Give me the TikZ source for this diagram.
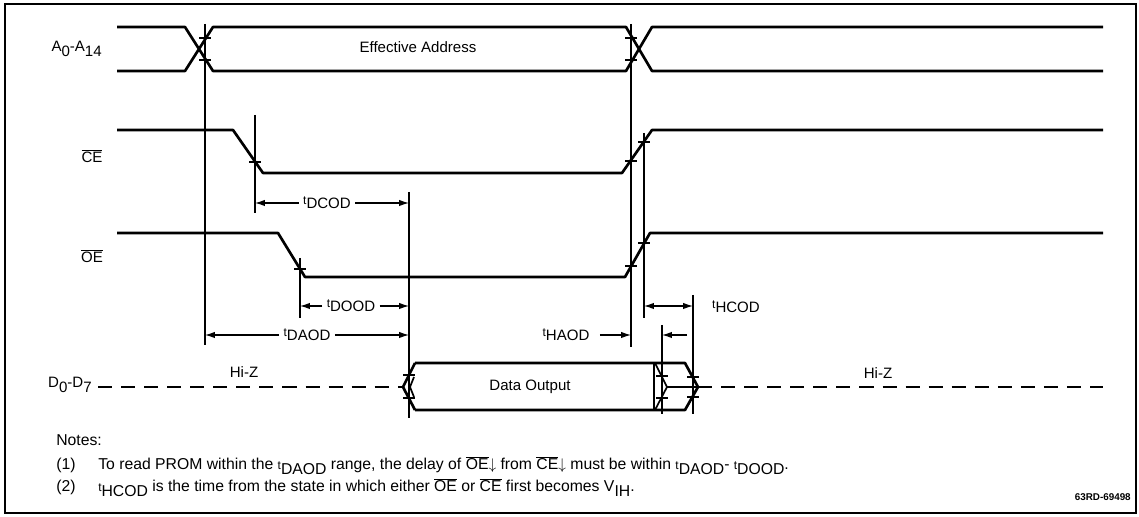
\documentclass[tikz,border=0pt]{standalone}
\usepackage{fontspec}
\setmainfont{Liberation Sans}
\usetikzlibrary{arrows.meta}

\newcommand{\tsub}[1]{{\fontsize{8.5}{9}\selectfont t}\raisebox{-0.55ex}{#1}}
\newcommand{\lo}[1]{\raisebox{-0.6ex}{#1}}
\newcommand{\ovl}[1]{$\overline{\mbox{#1}}$}

\tikzset{
  wave/.style={line width=1.9pt, line join=round},
  midwave/.style={line width=1.2pt, line join=round},
  hiz/.style={line width=1.9pt, dash pattern=on 10pt off 6.4pt},
  refline/.style={line width=0.8pt},
  tickmark/.style={line width=0.9pt},
  tarr/.style={line width=0.8pt, -{Latex[length=7pt,width=4.5pt]}},
  tarrs/.style={line width=0.8pt, {Latex[length=7pt,width=4.5pt]}-{Latex[length=7pt,width=4.5pt]}},
  tlabel/.style={inner sep=3pt},
  note/.style={anchor=base west, inner sep=0pt, font=\fontsize{11.2}{13}\selectfont},
}

\begin{document}
\begin{tikzpicture}[x=0.025cm, y=-0.025cm, font=\fontsize{10.7}{12}\selectfont]
\useasboundingbox (0,0) rectangle (1139,517);
\fill[white] (0,0) rectangle (1139,517);
\draw[line width=1.3pt] (5,4) rectangle (1136,513);

% reference instants
\coordinate (tA) at (205,0);
\coordinate (tCE) at (255,0);
\coordinate (tOE) at (300,0);
\coordinate (tDV) at (409,0);
\coordinate (tA2) at (631,0);
\coordinate (tCE2) at (644,0);
\coordinate (tDX) at (662,0);
\coordinate (tHZ) at (693,0);

% signal names
\node[anchor=east, inner sep=0pt] (lbla) at (102,49) {A\lo{0}-A\lo{14}};
\node (lblce) at (92,156) {\ovl{CE}};
\node (lbloe) at (92,256) {\ovl{OE}};
\node[anchor=east, inner sep=0pt] (lbld) at (92,385) {D\lo{0}-D\lo{7}};

% address
\draw[wave] (117,27) -- (185,27) -- (213,71) -- (626,71) -- (652,27) -- (1103,27);
\draw[wave] (117,71) -- (185,71) -- (213,27) -- (626,27) -- (652,71) -- (1103,71);
\node (addr) at (418,47) {Effective Address};

% chip enable
\draw[wave] (117,130) -- (233,130) -- (263,173) -- (622,173) -- (652,130) -- (1103,130);

% output enable
\draw[wave] (117,233) -- (278,233) -- (305,277) -- (625,277) -- (650,233) -- (1103,233);

% data bus
\draw[hiz] (98,387) -- (403,387);
\draw[wave] (415,363) -- (403,387) -- (415,410);
\draw[wave] (415,363) -- (685,363) -- (698,387) -- (685,410) -- (415,410);
\draw[midwave] (414,377) -- (410,387) -- (414,397);
\draw[midwave] (654,363) -- (654,410);
\draw[midwave] (655,363) -- (667,387) -- (655,410);
\draw[midwave] (667,387) -- (698,387);
\draw[hiz] (698,387) -- (1103,387);
\node (dout) at (530,387) {Data Output};
\node (hizl) at (244,372) {Hi-Z};
\node (hizr) at (878,373) {Hi-Z};

% timing lines
\foreach \x/\ya/\yb in {205/24/345, 255/115/213, 300/258/318, 409/192/418,
                        631/24/347, 644/133/318, 662/325/414, 693/295/414}
  \draw[refline] (\x,\ya) -- (\x,\yb);
\foreach \x/\y in {205/38, 205/60, 631/38, 631/60, 255/162, 631/161, 644/142,
                   300/269, 631/266, 644/243, 409/375, 409/398, 662/376,
                   662/398, 693/377, 693/397}
  \draw[tickmark] (\x-6,\y) -- (\x+6,\y);

% timing parameters
\node[tlabel] (dcod) at (327,203) {\tsub{DCOD}};
\draw[tarr] (dcod.west) -- (dcod.west -| tCE);
\draw[tarr] (dcod.east) -- (dcod.east -| tDV);

\node[tlabel] (dood) at (351,306) {\tsub{DOOD}};
\draw[tarr] (dood.west) -- (dood.west -| tOE);
\draw[tarr] (dood.east) -- (dood.east -| tDV);

\node[tlabel] (daod) at (307,335) {\tsub{DAOD}};
\draw[tarr] (daod.west) -- (daod.west -| tA);
\draw[tarr] (daod.east) -- (daod.east -| tDV);

\node[tlabel] (haod) at (566,335) {\tsub{HAOD}};
\draw[tarr] (haod.east) ++(6,0) -- (haod.east -| tA2);
\coordinate (haodr) at (687,335);
\draw[tarr] (haodr) -- (haodr -| tDX);

\coordinate (hcodl) at (644,306);
\coordinate (hcodr) at (693,306);
\draw[tarrs] (hcodl) -- (hcodr);
\node[tlabel] (hcod) at (736,307) {\tsub{HCOD}};

% notes
\node[note] (notes) at (56,446) {Notes:};
\node[note] (n1) at (56,470) {(1)};
\node[note] (n1t) at (98,470) {To read PROM within the \tsub{DAOD} range, the delay of \ovl{OE}$\downarrow$ from \ovl{CE}$\downarrow$ must be within \tsub{DAOD}- \tsub{DOOD}.};
\node[note] (n2) at (56,492) {(2)};
\node[note] (n2t) at (98,492) {\tsub{HCOD} is the time from the state in which either \ovl{OE} or \ovl{CE} first becomes V\lo{IH}.};
\node[anchor=base east, inner sep=0pt, font=\fontsize{7}{8}\selectfont\bfseries] (figid) at (1131,501) {63RD-69498};
\end{tikzpicture}
\end{document}
